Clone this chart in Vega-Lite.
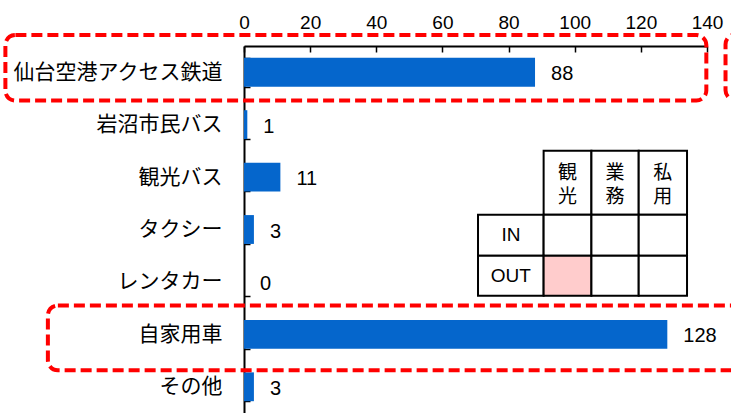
{
  "$schema": "https://vega.github.io/schema/vega-lite/v6.json",
  "width": 463,
  "height": 367,
  "autosize": {"type": "none"},
  "padding": {"left": 244, "top": 46, "right": 24, "bottom": 0},
  "background": "white",
  "config": {"view": {"stroke": null}},
  "datasets": {
    "bars": [
      {"cat": "仙台空港アクセス鉄道", "v": 88},
      {"cat": "岩沼市民バス", "v": 1},
      {"cat": "観光バス", "v": 11},
      {"cat": "タクシー", "v": 3},
      {"cat": "レンタカー", "v": 0},
      {"cat": "自家用車", "v": 128},
      {"cat": "その他", "v": 3}
    ],
    "cells": [
      {"x": 90.6, "x2": 105.05, "y": 2.0, "y2": 3.218, "hl": "no"},
      {"x": 105.05, "x2": 119.35, "y": 2.0, "y2": 3.218, "hl": "no"},
      {"x": 119.35, "x2": 133.96, "y": 2.0, "y2": 3.218, "hl": "no"},
      {"x": 70.76, "x2": 90.6, "y": 3.218, "y2": 4.0, "hl": "no"},
      {"x": 90.6, "x2": 105.05, "y": 3.218, "y2": 4.0, "hl": "no"},
      {"x": 105.05, "x2": 119.35, "y": 3.218, "y2": 4.0, "hl": "no"},
      {"x": 119.35, "x2": 133.96, "y": 3.218, "y2": 4.0, "hl": "no"},
      {"x": 70.76, "x2": 90.6, "y": 4.0, "y2": 4.763, "hl": "no"},
      {"x": 90.6, "x2": 105.05, "y": 4.0, "y2": 4.763, "hl": "yes"},
      {"x": 105.05, "x2": 119.35, "y": 4.0, "y2": 4.763, "hl": "no"},
      {"x": 119.35, "x2": 133.96, "y": 4.0, "y2": 4.763, "hl": "no"}
    ],
    "heads": [
      {"x": 97.8, "y": 2.42, "t": "観"},
      {"x": 97.8, "y": 2.875, "t": "光"},
      {"x": 112.2, "y": 2.42, "t": "業"},
      {"x": 112.2, "y": 2.875, "t": "務"},
      {"x": 126.65, "y": 2.42, "t": "私"},
      {"x": 126.65, "y": 2.875, "t": "用"}
    ],
    "rowlabels": [
      {"x": 80.7, "y": 3.61, "t": "IN"},
      {"x": 80.7, "y": 4.38, "t": "OUT"}
    ],
    "boxes": [
      {"x": -72.15, "x2": 139.8, "y": -0.21, "y2": 1.041},
      {"x": 145.6, "x2": 175, "y": -0.22, "y2": 1.035},
      {"x": -59.3, "x2": 175, "y": 4.949, "y2": 6.185}
    ]
  },
  "resolve": {"scale": {"y": "independent"}, "axis": {"y": "independent"}},
  "layer": [
    {
      "data": {"name": "bars"},
      "encoding": {
        "y": {
          "field": "cat", "type": "nominal", "sort": null,
          "scale": {"paddingInner": 0.45, "paddingOuter": 0.225},
          "axis": {
            "title": null, "orient": "left",
            "domainColor": "black", "domainWidth": 2,
            "tickBand": "extent", "tickSize": -6, "tickColor": "black", "tickWidth": 1.5,
            "labelPadding": 28, "labelFontSize": 21, "labelColor": "black", "labelLimit": 0,
            "labelFont": "Noto Sans CJK JP", "labelBaseline": "middle"
          }
        },
        "x": {
          "field": "v", "type": "quantitative",
          "scale": {"domain": [0, 140], "nice": false, "zero": true},
          "axis": {
            "title": null, "orient": "top", "values": [0, 20, 40, 60, 80, 100, 120, 140],
            "grid": false, "domainColor": "black", "domainWidth": 2,
            "tickSize": -6, "tickColor": "black", "tickWidth": 1.5,
            "labelPadding": 20, "labelFontSize": 19, "labelColor": "black",
            "labelFont": "Liberation Sans", "labelFlush": false
          }
        }
      },
      "layer": [
        {"mark": {"type": "bar", "color": "#0566CC"}},
        {
          "mark": {"type": "text", "align": "left", "baseline": "middle", "dx": 16, "dy": 2,
                   "fontSize": 20, "font": "Liberation Sans", "color": "black"},
          "encoding": {"text": {"field": "v", "type": "quantitative"}}
        }
      ]
    },
    {
      "layer": [
        {
          "data": {"name": "cells"},
          "mark": {"type": "rect", "stroke": "black", "strokeWidth": 2},
          "encoding": {
            "x": {"field": "x", "type": "quantitative"},
            "x2": {"field": "x2"},
            "y": {"field": "y", "type": "quantitative", "scale": {"domain": [0, 7], "reverse": true, "nice": false, "zero": false}, "axis": null},
            "y2": {"field": "y2"},
            "fill": {"field": "hl", "type": "nominal", "scale": {"domain": ["no", "yes"], "range": ["#FFFFFF", "#FFCCCC"]}, "legend": null}
          }
        },
        {
          "data": {"name": "heads"},
          "mark": {"type": "text", "align": "center", "baseline": "middle",
                   "fontSize": 19, "font": "Noto Sans CJK JP", "color": "black"},
          "encoding": {
            "x": {"field": "x", "type": "quantitative"},
            "y": {"field": "y", "type": "quantitative"},
            "text": {"field": "t"}
          }
        },
        {
          "data": {"name": "rowlabels"},
          "mark": {"type": "text", "align": "center", "baseline": "middle",
                   "fontSize": 19, "font": "Liberation Sans", "color": "black"},
          "encoding": {
            "x": {"field": "x", "type": "quantitative"},
            "y": {"field": "y", "type": "quantitative"},
            "text": {"field": "t"}
          }
        },
        {
          "data": {"name": "boxes"},
          "mark": {"type": "rect", "filled": false, "stroke": "#FF0000", "strokeWidth": 4,
                   "strokeDash": [11, 5], "cornerRadius": 10},
          "encoding": {
            "x": {"field": "x", "type": "quantitative"},
            "x2": {"field": "x2"},
            "y": {"field": "y", "type": "quantitative"},
            "y2": {"field": "y2"}
          }
        }
      ]
    }
  ]
}
